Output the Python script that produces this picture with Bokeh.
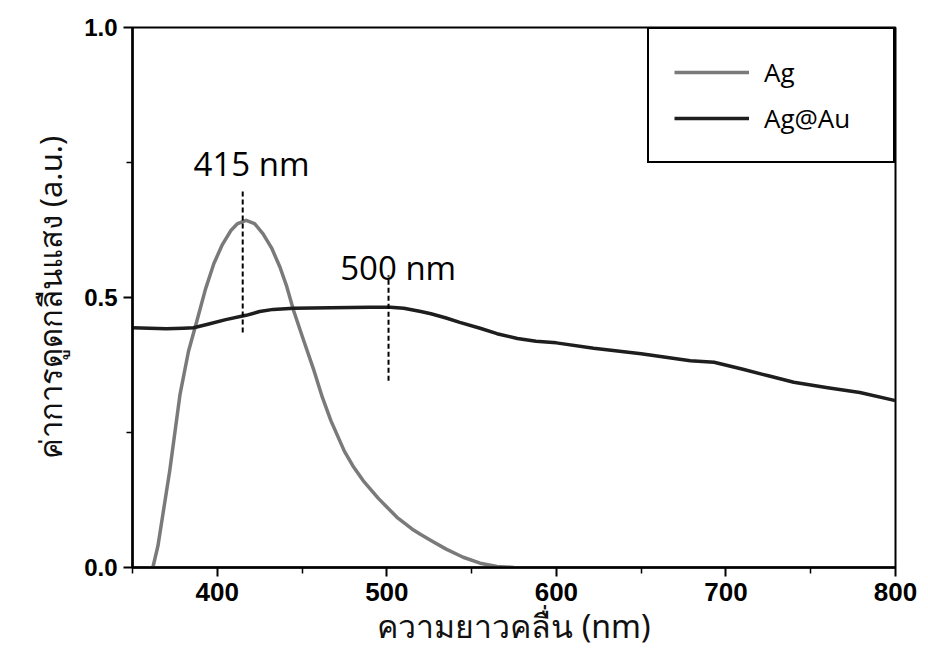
from bokeh.plotting import figure
from bokeh.models import Range1d, FixedTicker, Legend, LegendItem, Label, CustomJSTickFormatter
from bokeh.embed import file_html
from bokeh.resources import INLINE

# Data
ag_nm = [362, 365, 368, 372, 375, 378, 383, 388, 393, 398, 403, 408, 412, 417, 422, 427, 432,
         437, 441, 445, 451, 457, 462, 467, 475, 480, 486, 495, 500, 506, 515, 520, 526, 535,
         545, 555, 565, 575]
ag_abs = [0.0, 0.04, 0.10, 0.18, 0.25, 0.32, 0.40, 0.457, 0.515, 0.563, 0.598, 0.624, 0.637,
          0.643, 0.637, 0.618, 0.592, 0.556, 0.52, 0.476, 0.42, 0.365, 0.315, 0.272, 0.215,
          0.188, 0.161, 0.128, 0.112, 0.093, 0.071, 0.061, 0.05, 0.034, 0.019, 0.008, 0.002, 0.0]

agau_nm = [350, 360, 370, 380, 386, 395, 405, 417, 425, 433, 445, 467, 490, 502, 510, 520,
           526, 535, 543, 555, 565, 577, 588, 600, 622, 650, 679, 693, 710, 725, 740, 760, 779, 800]
agau_abs = [0.444, 0.443, 0.442, 0.443, 0.444, 0.451, 0.459, 0.467, 0.474, 0.478, 0.480,
            0.481, 0.482, 0.482, 0.480, 0.474, 0.470, 0.462, 0.454, 0.443, 0.433, 0.424, 0.419,
            0.416, 0.406, 0.396, 0.383, 0.380, 0.367, 0.355, 0.343, 0.333, 0.324, 0.309]

peak_nm = [415, 501]
peak_lo = [0.435, 0.346]
peak_hi = [0.698, 0.541]
peak_text = ["415 nm", "500 nm"]
peak_text_x = [386, 472.5]
peak_text_y = [0.748, 0.556]

series_names = ["Ag", "Ag@Au"]
x_ticks = [400, 500, 600, 700, 800]
x_minor = [350, 450, 550, 650, 750]
y_ticks = [0.0, 0.5, 1.0]
y_minor = [0.25, 0.75]

p = figure(width=928, height=658, output_backend="svg", toolbar_location=None,
           x_range=Range1d(350, 800), y_range=Range1d(0, 1.0),
           min_border_left=132, min_border_right=33, min_border_top=27, min_border_bottom=91)

p.background_fill_color = "white"
p.border_fill_color = "white"
p.grid.visible = False
p.outline_line_color = "black"
p.outline_line_width = 2
p.outline_line_alpha = 1

# Curves
r_ag = p.line(ag_nm, ag_abs, line_color="#7a7a7a", line_width=3.5, line_join="round")
r_agau = p.line(agau_nm, agau_abs, line_color="#1e1e1e", line_width=3.5, line_join="round")

# Dashed peak markers
p.segment(x0=peak_nm, y0=peak_lo, x1=peak_nm, y1=peak_hi,
          line_color="black", line_width=2, line_dash="5 3")
for t, tx, ty in zip(peak_text, peak_text_x, peak_text_y):
    p.add_layout(Label(x=tx, y=ty, text=t, text_font="Open Sans",
                       text_font_size="33px", text_color="black",
                       text_align="left", text_baseline="alphabetic"))

# Axes
p.xaxis.ticker = FixedTicker(ticks=x_ticks, minor_ticks=x_minor)
p.yaxis.ticker = FixedTicker(ticks=y_ticks, minor_ticks=y_minor)
for ax in (p.xaxis[0], p.yaxis[0]):
    ax.axis_line_width = 2.5
    ax.axis_line_color = "black"
    ax.major_tick_line_width = 2
    ax.minor_tick_line_width = 1.5
    ax.major_tick_out = 9
    ax.major_tick_in = 0
    ax.minor_tick_out = 6
    ax.minor_tick_in = 0
    ax.major_label_text_color = "black"
    ax.major_label_text_font = "Liberation Sans"
    ax.major_label_text_font_style = "bold"
    ax.axis_label_text_color = "#111111"
    ax.axis_label_text_font_style = "normal"

p.yaxis.formatter = CustomJSTickFormatter(code="return tick.toFixed(1);")
p.yaxis.major_label_text_font_size = "24px"
p.xaxis.major_label_text_font_size = "26px"
p.yaxis.major_label_standoff = 6
p.xaxis.major_label_standoff = 6

p.xaxis.axis_label = "ความยาวคลื่น (nm)"
p.yaxis.axis_label = "ค่าการดูดกลืนแสง (a.u.)"
p.xaxis.axis_label_text_font_size = "32px"
p.yaxis.axis_label_text_font_size = "31px"
p.xaxis.axis_label_text_font = "Noto Sans"
p.yaxis.axis_label_text_font = "Noto Sans"
p.xaxis.axis_label_standoff = 0
p.yaxis.axis_label_standoff = 10

# Legend
legend = Legend(items=[LegendItem(label=series_names[0], renderers=[r_ag]),
                       LegendItem(label=series_names[1], renderers=[r_agau])],
                location="top_right", margin=0)
legend.border_line_color = "black"
legend.border_line_width = 2
legend.border_line_alpha = 1
legend.background_fill_color = "white"
legend.background_fill_alpha = 1
legend.label_text_font = "Open Sans"
legend.label_text_font_size = "26px"
legend.label_text_color = "black"
legend.glyph_width = 75
legend.glyph_height = 34
legend.label_height = 34
legend.label_width = 104
legend.label_standoff = 15
legend.padding = 25
legend.spacing = 10
p.add_layout(legend)

open("out.html", "w").write(file_html(p, INLINE))
